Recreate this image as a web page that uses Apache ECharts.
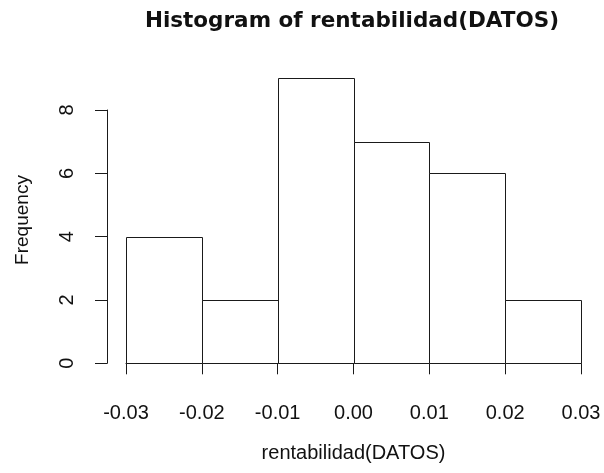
<!DOCTYPE html>
<html>
<head>
<meta charset="utf-8">
<script src="https://cdn.jsdelivr.net/npm/echarts@6/dist/echarts.min.js"></script>
<style>html,body{margin:0;padding:0;background:#fff;}#c{width:604px;height:473px;}</style>
</head>
<body>
<div id="c"></div>
<script>
const binEdges = [-0.03, -0.02, -0.01, 0.00, 0.01, 0.02, 0.03];
const counts = [4, 2, 9, 7, 6, 2];
const yTicks = [0, 2, 4, 6, 8];
const titleText = 'Histogram of rentabilidad(DATOS)';
const xName = 'rentabilidad(DATOS)';
const yName = 'Frequency';

const FONT = '"Liberation Sans", Arial, sans-serif';
const bins = counts.map((c, i) => [binEdges[i], binEdges[i + 1], c]);
const chart = echarts.init(document.getElementById('c'), null, {renderer: 'canvas'});
const lineStyle = {color: '#1a1a1a', width: 1};
chart.setOption({
  backgroundColor: '#fff',
  animation: false,
  title: {
    text: titleText, left: 347, top: 5, textAlign: 'center',
    textStyle: {fontFamily: '"DejaVu Sans", sans-serif', fontWeight: 'bold', fontSize: 21.5, color: '#111'}
  },
  graphic: [{
    type: 'text', x: 23, y: 220, rotation: Math.PI / 2,
    style: {text: yName, font: '19px ' + FONT, fill: '#111', align: 'center', verticalAlign: 'middle'}
  }],
  grid: [
    {left: 126, right: 23, top: 78.3, bottom: 109.7},
    {left: 107, right: 23, top: 110, bottom: 109.7}
  ],
  xAxis: [
    {
      type: 'value', gridIndex: 0, min: binEdges[0], max: binEdges[binEdges.length - 1], interval: 0.01,
      offset: 13.4, splitLine: {show: false},
      axisLine: {show: true, lineStyle: lineStyle},
      axisTick: {show: true, length: 11, lineStyle: lineStyle},
      axisLabel: {
        margin: 27, fontFamily: FONT, fontSize: 20, color: '#111', showMinLabel: true, showMaxLabel: true,
        formatter: v => Math.abs(v) < 1e-9 ? '0.00' : v.toFixed(2)
      },
      name: xName, nameLocation: 'middle', nameGap: 67,
      nameTextStyle: {fontFamily: FONT, fontSize: 20, color: '#111'}
    },
    {type: 'value', gridIndex: 1, show: false, min: 0, max: 1}
  ],
  yAxis: [
    {type: 'value', gridIndex: 0, show: false, min: 0, max: 9},
    {
      type: 'value', gridIndex: 1, min: yTicks[0], max: yTicks[yTicks.length - 1], interval: 2,
      splitLine: {show: false},
      axisLine: {show: true, lineStyle: lineStyle},
      axisTick: {show: true, length: 12, lineStyle: lineStyle},
      axisLabel: {
        rotate: 90, margin: 30, fontFamily: FONT, fontSize: 20, color: '#111',
        showMinLabel: true, showMaxLabel: true
      }
    }
  ],
  series: [{
    type: 'custom', xAxisIndex: 0, yAxisIndex: 0, data: bins, clip: false,
    renderItem: function (params, api) {
      const p0 = api.coord([api.value(0), api.value(2)]);
      const p1 = api.coord([api.value(1), 0]);
      const x0 = Math.round(p0[0]) + 0.5, y0 = Math.round(p0[1]) + 0.5;
      const x1 = Math.round(p1[0]) + 0.5, y1 = Math.round(p1[1]) + 0.5;
      return {
        type: 'rect',
        shape: {x: x0, y: y0, width: x1 - x0, height: y1 - y0},
        style: {fill: '#fff', stroke: '#1a1a1a', lineWidth: 1}
      };
    }
  }]
});
</script>
</body>
</html>
